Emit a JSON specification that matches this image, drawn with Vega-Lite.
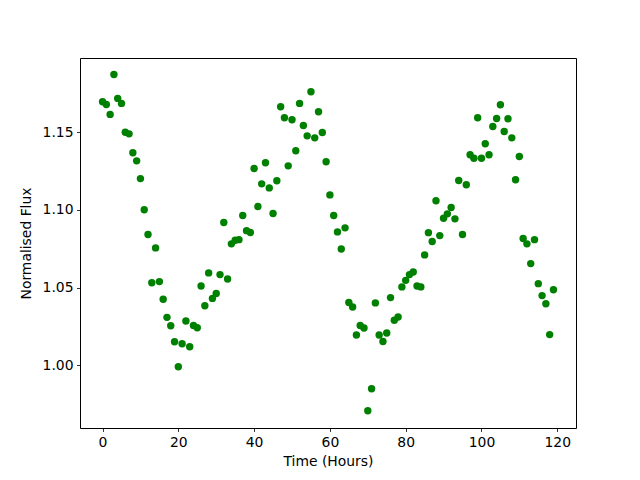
{
  "$schema": "https://vega.github.io/schema/vega-lite/v6.json",
  "width": 496,
  "height": 370,
  "autosize": {"type": "none"},
  "padding": {"left": 80, "top": 58, "right": 64, "bottom": 52},
  "background": "white",
  "config": {
    "view": {"stroke": "black", "strokeWidth": 1},
    "axis": {
      "grid": false,
      "domain": false,
      "tickColor": "black",
      "tickSize": 3.5,
      "tickWidth": 0.8,
      "labelFont": "DejaVu Sans",
      "labelFontSize": 13.9,
      "labelColor": "black",
      "labelPadding": 3.5,
      "titleFont": "DejaVu Sans",
      "titleFontSize": 13.9,
      "titleFontWeight": "normal",
      "titleColor": "black"
    }
  },
  "data": {
    "values": [
      {"t": 0, "f": 1.1696}, {"t": 1, "f": 1.1679}, {"t": 2, "f": 1.1615}, {"t": 3, "f": 1.1872},
      {"t": 4, "f": 1.1718}, {"t": 5, "f": 1.1686}, {"t": 6, "f": 1.150}, {"t": 7, "f": 1.149},
      {"t": 8, "f": 1.1368}, {"t": 9, "f": 1.1316}, {"t": 10, "f": 1.1202}, {"t": 11, "f": 1.1002},
      {"t": 12, "f": 1.0842}, {"t": 13, "f": 1.0532}, {"t": 14, "f": 1.0756}, {"t": 15, "f": 1.0539},
      {"t": 16, "f": 1.0425}, {"t": 17, "f": 1.0309}, {"t": 18, "f": 1.0255}, {"t": 19, "f": 1.0152},
      {"t": 20, "f": 0.9991}, {"t": 21, "f": 1.0139}, {"t": 22, "f": 1.0286}, {"t": 23, "f": 1.0120},
      {"t": 24, "f": 1.0257}, {"t": 25, "f": 1.0242}, {"t": 26, "f": 1.0511}, {"t": 27, "f": 1.0384},
      {"t": 28, "f": 1.0595}, {"t": 29, "f": 1.0431}, {"t": 30, "f": 1.0462}, {"t": 31, "f": 1.0584},
      {"t": 32, "f": 1.0919}, {"t": 33, "f": 1.0556}, {"t": 34, "f": 1.0782}, {"t": 35, "f": 1.0805},
      {"t": 36, "f": 1.0809}, {"t": 37, "f": 1.0964}, {"t": 38, "f": 1.0867}, {"t": 39, "f": 1.0855},
      {"t": 40, "f": 1.1267}, {"t": 41, "f": 1.1022}, {"t": 42, "f": 1.1168}, {"t": 43, "f": 1.1304},
      {"t": 44, "f": 1.1142}, {"t": 45, "f": 1.0977}, {"t": 46, "f": 1.1188}, {"t": 47, "f": 1.1664},
      {"t": 48, "f": 1.1593}, {"t": 49, "f": 1.1284}, {"t": 50, "f": 1.1581}, {"t": 51, "f": 1.1381},
      {"t": 52, "f": 1.1686}, {"t": 53, "f": 1.1544}, {"t": 54, "f": 1.1477}, {"t": 55, "f": 1.1761},
      {"t": 56, "f": 1.1464}, {"t": 57, "f": 1.1632}, {"t": 58, "f": 1.1499}, {"t": 59, "f": 1.1310},
      {"t": 60, "f": 1.1097}, {"t": 61, "f": 1.0964}, {"t": 62, "f": 1.0859}, {"t": 63, "f": 1.0749},
      {"t": 64, "f": 1.0885}, {"t": 65, "f": 1.0405}, {"t": 66, "f": 1.0376}, {"t": 67, "f": 1.0195},
      {"t": 68, "f": 1.0257}, {"t": 69, "f": 1.0241}, {"t": 70, "f": 0.9708}, {"t": 71, "f": 0.9850},
      {"t": 72, "f": 1.0402}, {"t": 73, "f": 1.0195}, {"t": 74, "f": 1.0154}, {"t": 75, "f": 1.0208},
      {"t": 76, "f": 1.0436}, {"t": 77, "f": 1.0290}, {"t": 78, "f": 1.0311}, {"t": 79, "f": 1.0505},
      {"t": 80, "f": 1.0547}, {"t": 81, "f": 1.0584}, {"t": 82, "f": 1.0601}, {"t": 83, "f": 1.0511},
      {"t": 84, "f": 1.0505}, {"t": 85, "f": 1.0711}, {"t": 86, "f": 1.0854}, {"t": 87, "f": 1.0797},
      {"t": 88, "f": 1.1059}, {"t": 89, "f": 1.0835}, {"t": 90, "f": 1.0947}, {"t": 91, "f": 1.0975},
      {"t": 92, "f": 1.1016}, {"t": 93, "f": 1.0943}, {"t": 94, "f": 1.1190}, {"t": 95, "f": 1.0842},
      {"t": 96, "f": 1.1162}, {"t": 97, "f": 1.1355}, {"t": 98, "f": 1.1333}, {"t": 99, "f": 1.1593},
      {"t": 100, "f": 1.1333}, {"t": 101, "f": 1.1426}, {"t": 102, "f": 1.1355}, {"t": 103, "f": 1.1537},
      {"t": 104, "f": 1.1589}, {"t": 105, "f": 1.1677}, {"t": 106, "f": 1.1505}, {"t": 107, "f": 1.1587},
      {"t": 108, "f": 1.1464}, {"t": 109, "f": 1.1194}, {"t": 110, "f": 1.1344}, {"t": 111, "f": 1.0816},
      {"t": 112, "f": 1.0782}, {"t": 113, "f": 1.0655}, {"t": 114, "f": 1.0809}, {"t": 115, "f": 1.0526},
      {"t": 116, "f": 1.0449}, {"t": 117, "f": 1.0397}, {"t": 118, "f": 1.0198}, {"t": 119, "f": 1.0487}
    ]
  },
  "mark": {"type": "point", "filled": true, "shape": "circle", "size": 55, "color": "#008000", "opacity": 1},
  "encoding": {
    "x": {
      "field": "t", "type": "quantitative", "title": "Time (Hours)",
      "scale": {"domain": [-5.95, 124.95], "nice": false, "zero": false},
      "axis": {"values": [0, 20, 40, 60, 80, 100, 120], "format": "d", "titlePadding": 6}
    },
    "y": {
      "field": "f", "type": "quantitative", "title": "Normalised Flux",
      "scale": {"domain": [0.9597, 1.1978], "nice": false, "zero": false},
      "axis": {"values": [1.0, 1.05, 1.1, 1.15], "format": ".2f", "titlePadding": 9}
    }
  }
}
